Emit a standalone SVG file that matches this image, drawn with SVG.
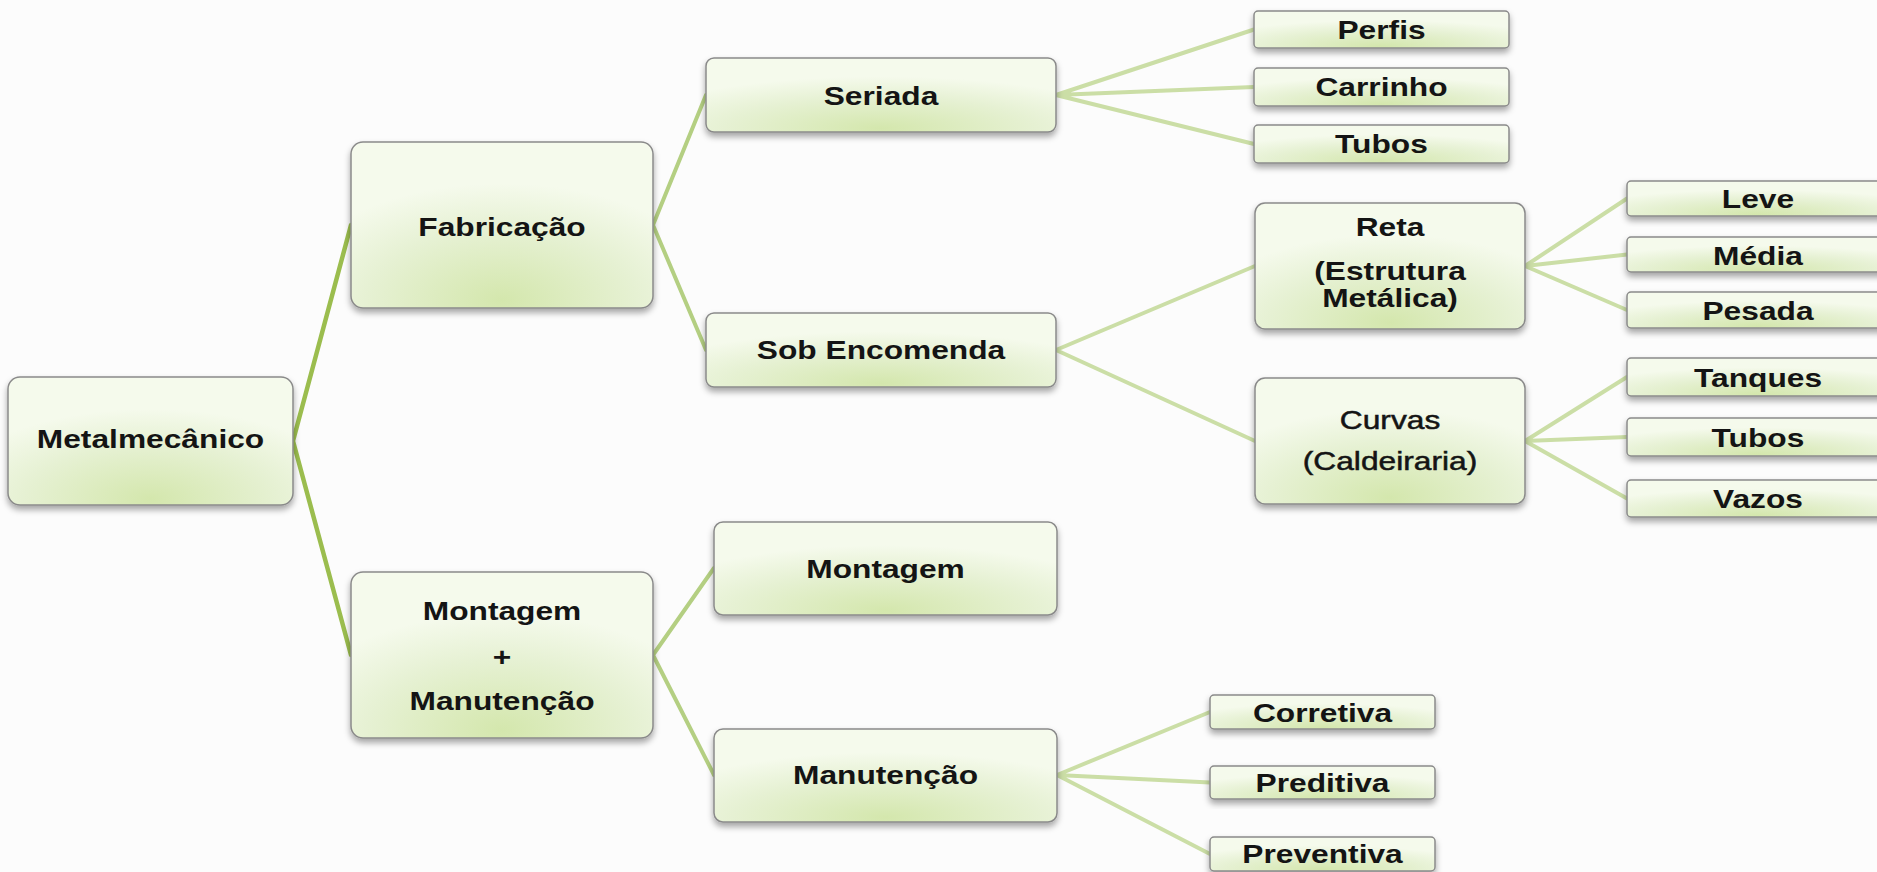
<svg xmlns="http://www.w3.org/2000/svg" width="1877" height="872" viewBox="0 0 1877 872">
<defs>
<radialGradient id="g" cx="50%" cy="100%" r="75%" fx="50%" fy="95%">
<stop offset="0" stop-color="#d4e7ad"/>
<stop offset="0.6" stop-color="#e6f1d3"/>
<stop offset="1" stop-color="#f5faec"/>
</radialGradient>
<filter id="sh" x="-10%" y="-20%" width="120%" height="150%">
<feDropShadow dx="0" dy="4" stdDeviation="3" flood-color="#000" flood-opacity="0.35"/>
</filter>
<style>
.n{fill:url(#g);stroke:#8a8a8a;stroke-width:1.5;filter:url(#sh)}
.t{font-family:"Liberation Sans",Arial,sans-serif;font-size:26px;font-weight:bold;fill:#141414;text-anchor:middle}
.r{font-weight:normal;stroke:#141414;stroke-width:0.5}
.c1{stroke:#9bbd4e;stroke-width:4.5;fill:none;stroke-linecap:round}
.c2{stroke:#b4cf82;stroke-width:4;fill:none;stroke-linecap:round}
.c3{stroke:#cbdea6;stroke-width:4;fill:none;stroke-linecap:round}
</style>
</defs>
<rect width="1877" height="872" fill="#fcfcfc"/>
<g id="connectors">
<path class="c1" d="M293 441L351 225M293 441L351 655"/>
<path class="c2" d="M653 225L706 95M653 225L706 350M653 655L714 568M653 655L714 775"/>
<path class="c3" d="M1056 95L1254 29.5M1056 95L1254 87M1056 95L1254 144"/>
<path class="c3" d="M1056 350L1255 266M1056 350L1255 441"/>
<path class="c3" d="M1525 266L1627 198.5M1525 266L1627 254.5M1525 266L1627 310"/>
<path class="c3" d="M1525 441L1627 377M1525 441L1627 437M1525 441L1627 498.5"/>
<path class="c3" d="M1057 775L1210 712M1057 775L1210 782.5M1057 775L1210 854"/>
</g>
<g id="metalmecanico"><rect class="n" x="8" y="377" width="285" height="128" rx="12"/>
<g transform="translate(150.5 448) scale(1.22 1)"><text class="t" x="0" y="0">Metalmecânico</text></g></g>
<g id="fabricacao"><rect class="n" x="351" y="142" width="302" height="166" rx="12"/>
<g transform="translate(502 236) scale(1.22 1)"><text class="t" x="0" y="0">Fabricação</text></g></g>
<g id="montagem-manutencao"><rect class="n" x="351" y="572" width="302" height="166" rx="12"/>
<g transform="translate(502 0) scale(1.22 1)"><text class="t" x="0" y="620">Montagem</text><text class="t" x="0" y="666">+</text><text class="t" x="0" y="710">Manutenção</text></g></g>
<g id="seriada"><rect class="n" x="706" y="58" width="350" height="74" rx="8"/>
<g transform="translate(881 105) scale(1.22 1)"><text class="t" x="0" y="0">Seriada</text></g></g>
<g id="sob-encomenda"><rect class="n" x="706" y="313" width="350" height="74" rx="8"/>
<g transform="translate(881 359) scale(1.22 1)"><text class="t" x="0" y="0">Sob Encomenda</text></g></g>
<g id="montagem"><rect class="n" x="714" y="522" width="343" height="93" rx="9"/>
<g transform="translate(885.5 578) scale(1.22 1)"><text class="t" x="0" y="0">Montagem</text></g></g>
<g id="manutencao"><rect class="n" x="714" y="729" width="343" height="93" rx="9"/>
<g transform="translate(885.5 784) scale(1.22 1)"><text class="t" x="0" y="0">Manutenção</text></g></g>
<g id="perfis"><rect class="n" x="1254" y="11" width="255" height="37" rx="4"/>
<g transform="translate(1381.5 39) scale(1.22 1)"><text class="t" x="0" y="0">Perfis</text></g></g>
<g id="carrinho"><rect class="n" x="1254" y="68" width="255" height="38" rx="4"/>
<g transform="translate(1381.5 96) scale(1.22 1)"><text class="t" x="0" y="0">Carrinho</text></g></g>
<g id="tubos-seriada"><rect class="n" x="1254" y="125" width="255" height="38" rx="4"/>
<g transform="translate(1381.5 153) scale(1.22 1)"><text class="t" x="0" y="0">Tubos</text></g></g>
<g id="reta"><rect class="n" x="1255" y="203" width="270" height="126" rx="10"/>
<g transform="translate(1390 0) scale(1.22 1)"><text class="t" x="0" y="236">Reta</text><text class="t" x="0" y="280">(Estrutura</text><text class="t" x="0" y="307">Metálica)</text></g></g>
<g id="curvas"><rect class="n" x="1255" y="378" width="270" height="126" rx="10"/>
<g transform="translate(1390 0) scale(1.22 1)"><text class="t r" x="0" y="429">Curvas</text><text class="t r" x="0" y="470">(Caldeiraria)</text></g></g>
<g id="leve"><rect class="n" x="1627" y="181" width="262" height="35" rx="4"/>
<g transform="translate(1758 208) scale(1.22 1)"><text class="t" x="0" y="0">Leve</text></g></g>
<g id="media"><rect class="n" x="1627" y="237" width="262" height="35" rx="4"/>
<g transform="translate(1758 265) scale(1.22 1)"><text class="t" x="0" y="0">Média</text></g></g>
<g id="pesada"><rect class="n" x="1627" y="292" width="262" height="36" rx="4"/>
<g transform="translate(1758 320) scale(1.22 1)"><text class="t" x="0" y="0">Pesada</text></g></g>
<g id="tanques"><rect class="n" x="1627" y="358" width="262" height="38" rx="4"/>
<g transform="translate(1758 387) scale(1.22 1)"><text class="t" x="0" y="0">Tanques</text></g></g>
<g id="tubos-curvas"><rect class="n" x="1627" y="418" width="262" height="38" rx="4"/>
<g transform="translate(1758 447) scale(1.22 1)"><text class="t" x="0" y="0">Tubos</text></g></g>
<g id="vazos"><rect class="n" x="1627" y="480" width="262" height="37" rx="4"/>
<g transform="translate(1758 508) scale(1.22 1)"><text class="t" x="0" y="0">Vazos</text></g></g>
<g id="corretiva"><rect class="n" x="1210" y="695" width="225" height="34" rx="4"/>
<g transform="translate(1322.5 722) scale(1.22 1)"><text class="t" x="0" y="0">Corretiva</text></g></g>
<g id="preditiva"><rect class="n" x="1210" y="766" width="225" height="33" rx="4"/>
<g transform="translate(1322.5 792) scale(1.22 1)"><text class="t" x="0" y="0">Preditiva</text></g></g>
<g id="preventiva"><rect class="n" x="1210" y="837" width="225" height="34" rx="4"/>
<g transform="translate(1322.5 863) scale(1.22 1)"><text class="t" x="0" y="0">Preventiva</text></g></g>
</svg>
